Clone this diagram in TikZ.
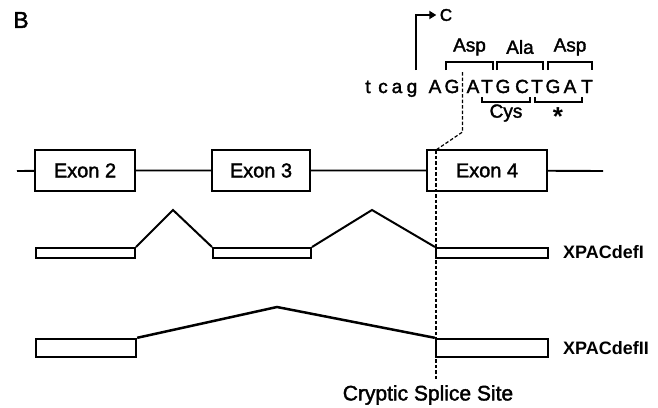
\documentclass[tikz,border=0pt]{standalone}
\usepackage{fontspec}
\setmainfont{Liberation Sans}
\newfontfamily\medium{Liberation Sans}[FakeBold=1.8]
\usepackage{tikz}
\usetikzlibrary{arrows.meta,positioning}

\begin{document}
\begin{tikzpicture}[
  x=1pt, y=-1pt,
  font=\medium\fontsize{19}{21}\selectfont,
  exon/.style={draw, line width=2.2pt, minimum height=41pt, inner sep=0pt, font=\medium\fontsize{20}{22}\selectfont},
  mrna/.style={draw, line width=2pt, minimum height=10pt, inner sep=0pt},
  mrnab/.style={mrna, line width=2.4pt, minimum height=18pt},
  gene/.style={line width=1.9pt},
  splice/.style={line width=2pt},
  spliceb/.style={line width=2.5pt},
  brk/.style={line width=1.9pt},
  site/.style={dash pattern=on 3.5pt off 2pt, line width=1.2pt},
  base/.style={inner sep=0pt, anchor=base},
  tag/.style={font=\bfseries\fontsize{18}{20}\selectfont, anchor=west, inner sep=0pt},
  arr/.style={-{Triangle[length=7pt,width=8pt]}, line width=2pt}
]
\useasboundingbox (0,0) rectangle (658,407);

\node[font=\medium\fontsize{23}{25}\selectfont] (panel) at (21,20) {B};

\foreach \c/\x [count=\i] in {t/368,c/383,a/397,g/412,A/435,G/452,A/473,T/487,G/503,C/522,T/537,G/553,A/570,T/587}
  \node[base] (s\i) at (\x,93) {\c};

\coordinate (tss) at (416,70);
\node[font=\medium\fontsize{17}{19}\selectfont] (start) at (446,15) {C};
\draw[arr] (tss) |- (start.west);

\foreach \n/\a/\b/\t in {aa1/446/493/Asp, aa2/497/543/Ala, aa3/548/592/Asp}{
  \draw[brk] (\a,70) |- (\b,62) -- (\b,70);
  \node (\n) at ({(\a+\b)/2},47) {\t};
}
\foreach \a/\b in {482/530, 535/582}{
  \draw[brk] (\a,97) |- (\b,102) -- (\b,97);
}
\node (cys) at (506,113) {Cys};
\node[font=\bfseries\fontsize{26}{26}\selectfont] (stop) at (558,117) {*};

\node[exon, minimum width=100pt] (ex2) at (85,170.5) {Exon 2};
\node[exon, minimum width=98pt] (ex3) at (261,170.5) {Exon 3};
\node[exon, minimum width=120pt] (ex4) at (487,170.5) {Exon 4};
\coordinate (gl) at (17,171);
\coordinate (gr) at (603,171);
\draw[gene] (gl) -- (ex2) -- (ex3) -- (ex4) -- (gr);

\node[mrna, minimum width=99pt] (r1a) at (85.5,253) {};
\node[mrna, minimum width=98pt] (r1b) at (262,253) {};
\node[mrna, minimum width=112pt] (r1c) at (492,253) {};
\coordinate (p1) at (173,210);
\coordinate (p2) at (372,210);
\draw[splice] (r1a.north east) -- (p1) -- (r1b.north west);
\draw[splice] (r1b.north east) -- (p2) -- (r1c.north west);
\node[tag] (iso1) at (563,252) {XPACdefI};

\node[mrnab, minimum width=100pt] (r2a) at (86,348) {};
\node[mrnab, minimum width=112pt] (r2c) at (492,348) {};
\coordinate (p3) at (277,307);
\draw[spliceb] (r2a.north east) -- (p3) -- (r2c.north west);
\node[tag] (iso2) at (563,348) {XPACdefII};

\coordinate (cs1) at (462.5,72);
\coordinate (cs2) at (462.5,132);
\coordinate (cs3) at (436,150);
\coordinate (cs4) at (436,379);
\draw[site] (cs1) -- (cs2) -- (cs3);
\draw[site] (cs3) -- (cs4);
\node[font=\medium\fontsize{21}{23}\selectfont] (cryptic) at (428,395) {Cryptic Splice Site};
\end{tikzpicture}
\end{document}
